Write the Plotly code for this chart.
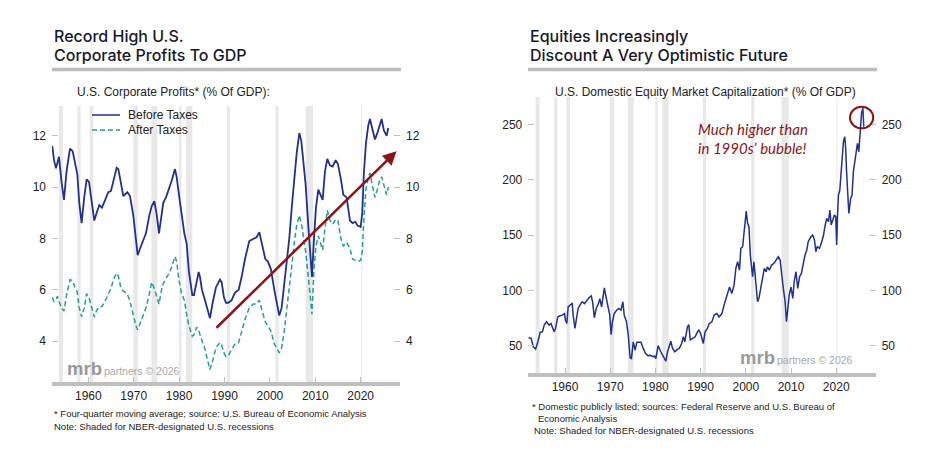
import plotly.graph_objects as go

# ---- left chart: corporate profits (% of GDP), 4q moving average ----
profit_years = [
    1952.07, 1952.44, 1952.88, 1953.20, 1953.54, 1954.10, 1954.64, 1955.20, 1955.96, 1956.55,
    1957.06, 1957.58, 1958.00, 1958.53, 1959.10, 1959.63, 1960.15, 1960.73, 1961.32, 1961.84,
    1962.42, 1963.01, 1963.67, 1964.41, 1964.99, 1965.51, 1966.24, 1966.61, 1967.20, 1967.71,
    1968.59, 1969.18, 1969.91, 1970.50, 1970.87, 1971.38, 1972.11, 1972.70, 1973.44, 1973.95,
    1974.54, 1975.05, 1975.57, 1976.08, 1976.52, 1977.11, 1977.84, 1978.36, 1979.09, 1979.46,
    1980.04, 1980.56, 1981.15, 1981.66, 1982.17, 1982.91, 1983.27, 1983.86, 1984.30, 1984.60,
    1985.04, 1985.70, 1986.28, 1986.80, 1987.39, 1988.12, 1989.00, 1989.37, 1989.88, 1990.32,
    1990.84, 1991.57, 1992.31, 1993.11, 1993.77, 1994.51, 1995.46, 1996.34, 1997.08, 1997.67,
    1998.18, 1998.99, 1999.57, 2000.23, 2000.97, 2001.63, 2002.07, 2002.58, 2003.17, 2003.68,
    2004.27, 2004.86, 2005.45, 2005.89, 2006.48, 2006.92, 2007.36, 2007.87, 2008.46, 2008.97,
    2009.27, 2009.71, 2010.15, 2010.66, 2011.17, 2011.62, 2012.13, 2012.64, 2013.23, 2013.82,
    2014.48, 2014.99, 2015.65, 2016.17, 2016.90, 2017.64, 2018.22, 2018.81, 2019.32, 2019.99,
    2020.35, 2020.72, 2021.16, 2021.67, 2022.04, 2022.41, 2022.78, 2023.14, 2023.66, 2024.24,
    2024.61, 2025.12, 2025.71, 2026.08,
]
before_taxes = [
    11.60, 11.05, 10.73, 10.95, 11.18, 10.20, 9.50, 10.60, 11.50, 11.40,
    10.90, 10.50, 9.40, 8.60, 9.60, 10.30, 10.20, 9.40, 8.70, 9.00,
    9.30, 9.20, 9.50, 9.80, 9.85, 10.20, 10.75, 10.70, 10.20, 9.65,
    9.80, 9.65, 8.90, 7.90, 7.35, 7.60, 7.95, 8.20, 8.90, 9.25,
    9.45, 8.95, 8.20, 8.80, 9.40, 9.60, 9.95, 10.25, 10.70, 10.40,
    9.60, 8.90, 8.20, 7.80, 6.70, 5.80, 5.80, 6.30, 6.70, 6.50,
    6.00, 5.60, 5.20, 4.90, 5.50, 6.10, 6.40, 6.30, 5.70, 5.50,
    5.50, 5.60, 5.90, 6.00, 6.50, 7.20, 7.90, 8.00, 8.05, 8.25,
    7.80, 7.20, 7.10, 6.80, 6.00, 5.30, 5.00, 5.30, 6.20, 7.10,
    8.00, 9.30, 10.60, 11.30, 12.10, 11.80, 11.00, 10.10, 8.50, 7.30,
    6.50, 8.00, 9.20, 9.90, 9.70, 9.50, 10.60, 11.10, 10.85, 10.80,
    11.05, 10.90, 10.30, 9.70, 9.60, 8.70, 8.60, 8.65, 8.50, 8.45,
    9.00, 10.60, 11.70, 12.40, 12.65, 12.40, 12.10, 11.85, 12.10, 12.50,
    12.65, 12.20, 12.00, 12.30,
]
after_taxes = [
    5.71, 5.55, 5.62, 5.75, 5.55, 5.30, 5.18, 5.80, 6.40, 6.35,
    6.10, 5.90, 5.30, 4.95, 5.30, 5.85, 5.70, 5.30, 4.95, 5.20,
    5.35, 5.35, 5.55, 5.85, 6.05, 6.40, 6.65, 6.55, 6.05, 5.95,
    5.85, 5.55, 5.00, 4.60, 4.45, 4.70, 5.05, 5.30, 5.85, 6.30,
    6.05, 5.75, 5.45, 5.95, 6.25, 6.45, 6.65, 6.90, 7.30, 7.10,
    6.30, 5.85, 5.60, 5.05, 4.60, 4.20, 4.25, 4.55, 4.45, 4.25,
    4.00, 3.70, 3.25, 2.90, 3.25, 3.75, 3.95, 3.85, 3.55, 3.40,
    3.45, 3.65, 3.90, 3.95, 4.35, 4.85, 5.30, 5.45, 5.45, 5.60,
    5.25, 4.75, 4.60, 4.40, 3.90, 3.65, 3.55, 3.75, 4.40, 5.20,
    6.00, 7.00, 7.95, 8.50, 8.90, 8.60, 8.10, 7.50, 6.50, 5.50,
    5.05, 6.80, 7.70, 8.10, 7.80, 7.55, 8.40, 9.10, 8.70, 8.55,
    8.75, 8.70, 8.00, 7.70, 7.85, 7.60, 7.20, 7.15, 7.10, 7.15,
    7.50, 8.80, 9.90, 10.40, 10.55, 10.20, 9.85, 9.60, 9.90, 10.30,
    10.40, 10.10, 9.70, 10.00,
]

# ---- right chart: domestic equity market cap (% of GDP) ----
mcap_years = [
    1951.9, 1952.5, 1953.0, 1953.5, 1954.0, 1954.5, 1955.0, 1955.4, 1955.9, 1956.5,
    1956.9, 1957.2, 1957.6, 1957.9, 1958.4, 1958.9, 1959.4, 1959.9, 1960.1, 1960.4,
    1960.7, 1961.3, 1961.6, 1961.8, 1962.2, 1962.6, 1962.9, 1963.5, 1963.8, 1964.3,
    1964.8, 1965.3, 1965.8, 1966.1, 1966.5, 1966.9, 1967.4, 1967.7, 1968.1, 1968.5,
    1968.7, 1969.0, 1969.4, 1969.9, 1970.2, 1970.5, 1970.9, 1971.4, 1971.9, 1972.4,
    1972.8, 1973.1, 1973.6, 1974.0, 1974.4, 1974.7, 1975.1, 1975.5, 1975.9, 1976.4,
    1976.8, 1977.3, 1977.8, 1978.4, 1978.8, 1979.3, 1979.8, 1980.1, 1980.6, 1981.2,
    1981.8, 1982.3, 1982.7, 1983.4, 1983.8, 1984.3, 1984.9, 1985.3, 1985.8, 1986.2,
    1986.5, 1987.1, 1987.4, 1987.7, 1988.2, 1988.8, 1989.3, 1989.6, 1990.0, 1990.4,
    1990.6, 1991.0, 1991.5, 1991.9, 1992.5, 1993.0, 1993.6, 1994.1, 1994.7, 1995.2,
    1995.8, 1996.4, 1996.9, 1997.4, 1997.8, 1998.2, 1998.6, 1998.9, 1999.3, 1999.6,
    1999.9, 2000.1, 2000.4, 2000.7, 2001.0, 2001.3, 2001.5, 2001.8, 2002.2, 2002.6,
    2002.9, 2003.3, 2003.7, 2004.1, 2004.5, 2004.8, 2005.2, 2005.7, 2006.2, 2006.7,
    2007.2, 2007.6, 2007.9, 2008.3, 2008.7, 2009.0, 2009.3, 2009.6, 2010.0, 2010.4,
    2010.7, 2011.1, 2011.5, 2011.9, 2012.3, 2012.7, 2013.1, 2013.5, 2013.8, 2014.4,
    2014.8, 2015.2, 2015.5, 2015.8, 2016.3, 2016.8, 2017.2, 2017.5, 2017.9, 2018.3,
    2018.6, 2018.9, 2019.2, 2019.6, 2019.9, 2020.1, 2020.3, 2020.5, 2020.8, 2021.2,
    2021.6, 2021.9, 2022.1, 2022.3, 2022.6, 2022.8, 2023.2, 2023.5, 2023.8, 2024.2,
    2024.7, 2025.0, 2025.3, 2025.6, 2025.9, 2026.1,
]
mcap_values = [
    57.1, 56.5, 49.0, 46.9, 53.5, 62.0, 62.5, 68.6, 71.6, 68.6,
    70.0, 66.0, 62.5, 65.5, 76.0, 77.0, 77.6, 79.0, 73.0, 70.0,
    85.0, 87.3, 88.0, 77.6, 65.5, 76.0, 83.6, 88.0, 89.7, 88.0,
    91.2, 93.3, 95.0, 89.7, 75.2, 83.6, 88.0, 92.5, 85.0, 95.7,
    102.3, 95.7, 88.0, 77.6, 60.0, 71.6, 79.0, 82.0, 83.6, 82.0,
    89.7, 77.6, 71.6, 59.5, 39.0, 38.4, 53.5, 46.0, 53.0, 53.0,
    53.0, 47.5, 43.0, 40.8, 41.4, 40.2, 40.5, 38.4, 50.0, 44.5,
    40.0, 36.0, 44.5, 54.0, 47.5, 44.5, 46.9, 47.5, 52.0, 58.0,
    53.5, 67.0, 69.0, 55.0, 56.5, 58.0, 62.5, 64.0, 61.0, 53.5,
    52.0, 62.5, 65.5, 70.0, 71.6, 77.6, 79.0, 76.0, 79.0, 86.7,
    95.7, 103.0, 97.2, 104.7, 119.8, 125.8, 118.3, 137.9, 139.4, 150.0,
    165.0, 171.6, 160.5, 157.5, 131.9, 122.8, 112.3, 125.8, 107.7, 89.7,
    92.7, 101.7, 112.3, 119.8, 116.8, 121.3, 118.3, 122.8, 124.3, 127.3,
    130.3, 127.3, 113.8, 101.7, 89.7, 71.6, 83.6, 95.7, 103.0, 92.7,
    107.7, 116.8, 101.7, 112.3, 115.3, 125.8, 131.9, 136.4, 143.9, 148.4,
    150.0, 145.4, 134.9, 139.4, 137.9, 143.9, 150.0, 157.5, 165.0, 162.0,
    172.6, 159.0, 163.5, 168.0, 166.6, 140.9, 168.0, 186.1, 190.6, 216.2,
    234.3, 238.8, 228.3, 207.2, 180.1, 169.5, 183.1, 186.1, 207.2, 217.7,
    232.8, 225.2, 243.4, 259.9, 264.5, 247.9,
]

# NBER recessions (start, end)
recessions = [
    (1953.5, 1954.4), (1957.6, 1958.3), (1960.3, 1961.1), (1969.9, 1970.9),
    (1973.9, 1975.2), (1980.0, 1980.5), (1981.5, 1982.9), (1990.5, 1991.2),
    (2001.2, 2001.9), (2007.9, 2009.5), (2020.1, 2020.3),
]
decade_ticks = [1960, 1970, 1980, 1990, 2000, 2010, 2020]
profit_ticks = [4, 6, 8, 10, 12]
mcap_ticks = [50, 100, 150, 200, 250]

W, H = 930, 467
OFF = 8  # page body margin the browser puts round the figure
NAVY = "#22318a"
TEAL = "#2a9d8f"
DARKRED = "#8b1414"
RULE = "#bdbdbd"
TICKC = "#bfbfbf"
TXT = "#222222"
TITLE = "#16182a"
SANS = "Liberation Sans, Arial, sans-serif"
TFONT = "Inter, " + SANS


def px(x):
    return (x - OFF) / W


def py(y):
    return 1 - (y - OFF) / H


fig = go.Figure()
fig.add_trace(go.Scatter(x=profit_years, y=before_taxes, mode="lines", xaxis="x", yaxis="y",
                         line=dict(color=NAVY, width=1.8)))
fig.add_trace(go.Scatter(x=profit_years, y=after_taxes, mode="lines", xaxis="x", yaxis="y",
                         line=dict(color=TEAL, width=1.5, dash="5px,3px")))
fig.add_trace(go.Scatter(x=mcap_years, y=mcap_values, mode="lines", xaxis="x2", yaxis="y3",
                         line=dict(color=NAVY, width=1.5)))
# invisible copies so the right-hand axes get drawn
fig.add_trace(go.Scatter(x=profit_years, y=before_taxes, mode="lines", xaxis="x", yaxis="y2",
                         line=dict(color="rgba(0,0,0,0)", width=0), hoverinfo="skip"))
fig.add_trace(go.Scatter(x=mcap_years, y=mcap_values, mode="lines", xaxis="x2", yaxis="y4",
                         line=dict(color="rgba(0,0,0,0)", width=0), hoverinfo="skip"))

shapes = []
for xr, yr in (("x", "y domain"), ("x2", "y3 domain")):
    for a, b in recessions:
        shapes.append(dict(type="rect", xref=xr, yref=yr, x0=a, x1=b, y0=0, y1=1,
                           fillcolor="#e8e8e8", line=dict(width=0), layer="below"))

# title rules
for x0, x1 in ((52, 401), (528, 877)):
    shapes.append(dict(type="line", xref="paper", yref="paper", x0=px(x0), x1=px(x1),
                       y0=py(69.5), y1=py(69.5), line=dict(color=RULE, width=3.5)))

# legend (left chart)
shapes.append(dict(type="line", xref="paper", yref="paper", x0=px(92), x1=px(120),
                   y0=py(115), y1=py(115), line=dict(color=NAVY, width=1.5)))
shapes.append(dict(type="line", xref="paper", yref="paper", x0=px(92), x1=px(120),
                   y0=py(130), y1=py(130), line=dict(color=TEAL, width=1.5, dash="5px,3px")))

# circle around latest peak
shapes.append(dict(type="circle", xref="x2", yref="y3", x0=2023.05, x1=2028.2,
                   y0=246.4, y1=265.9, line=dict(color=DARKRED, width=2)))

ann = []


def text(x, y, s, size, color=TXT, family=SANS, xanchor="left", **kw):
    ann.append(dict(xref="paper", yref="paper", x=px(x), y=py(y), text=s, showarrow=False,
                    xanchor=xanchor, yanchor="middle", align="left",
                    font=dict(size=size, color=color, family=family, **kw)))


# titles
text(52, 35.5, "Record High U.S.", 16, color=TITLE, family=TFONT, weight=500)
text(52, 55, "Corporate Profits To GDP", 16, color=TITLE, family=TFONT, weight=500)
text(528, 35.5, "Equities Increasingly", 16, color=TITLE, family=TFONT, weight=500)
text(528, 55, "Discount A Very Optimistic Future", 16, color=TITLE, family=TFONT, weight=500)

# subtitles
text(75, 92, "U.S. Corporate Profits* (% Of GDP):", 12)
text(705, 92, "U.S. Domestic Equity Market Capitalization* (% Of GDP)", 12, xanchor="center")

# legend labels
text(126, 115, "Before Taxes", 12)
text(126, 130, "After Taxes", 12)

# italic note
text(696, 129, "<i>Much higher than</i>", 15, color=DARKRED, family="Lato, " + SANS)
text(696, 148, "<i>in 1990s\u2019 bubble!</i>", 15, color=DARKRED, family="Lato, " + SANS)

# watermarks
text(65, 368.5, "<b>mrb</b>", 18.5, color="#999999")
text(102, 370.5, "partners \u00a9 2026", 10.5, color="#a8a8a8")
text(738, 357.5, "<b>mrb</b>", 18.5, color="#999999")
text(775, 359.5, "partners \u00a9 2026", 10.5, color="#a8a8a8")

# footnotes
text(52, 413, "* Four-quarter moving average; source: U.S. Bureau of Economic Analysis", 9.5)
text(52, 426, "Note: Shaded for NBER-designated U.S. recessions", 9.5)
text(530, 406, "* Domestic publicly listed; sources: Federal Reserve and U.S. Bureau of", 9.5)
text(536, 418, "Economic Analysis", 9.5)
text(532, 430, "Note: Shaded for NBER-designated U.S. recessions", 9.5)

# trend arrow
ann.append(dict(xref="x", yref="y", axref="x", ayref="y", x=2027.9, y=11.4, ax=1987.9, ay=4.47,
                text="", showarrow=True, arrowhead=2, arrowsize=1.1, arrowwidth=2.5,
                arrowcolor=DARKRED))

xcommon = dict(tickvals=decade_ticks, showline=True, linecolor=TICKC, linewidth=4,
               ticks="inside", ticklen=5, tickcolor=TICKC, showgrid=False, zeroline=False,
               tickfont=dict(size=12, color=TXT, family=SANS))
ycommon = dict(ticks="inside", ticklen=6, tickcolor=TICKC, showgrid=False, zeroline=False,
               showline=False, ticklabelstandoff=5, tickfont=dict(size=12, color=TXT, family=SANS))

fig.update_layout(
    width=W, height=H, margin=dict(l=0, r=0, t=0, b=0),
    paper_bgcolor="white", plot_bgcolor="white", showlegend=False,
    xaxis=dict(domain=[px(52), px(400)], range=[1952.0, 2028.66], anchor="y", **xcommon),
    yaxis=dict(domain=[py(382), py(106)], range=[2.416, 13.156], tickvals=profit_ticks,
               anchor="x", **ycommon),
    yaxis2=dict(overlaying="y", side="right", range=[2.416, 13.156], tickvals=profit_ticks,
                anchor="x", **ycommon),
    xaxis2=dict(domain=[px(528.3), px(875.7)], range=[1951.88, 2028.74], anchor="y3", **xcommon),
    yaxis3=dict(domain=[py(373), py(97)], range=[25.3, 274.7], tickvals=mcap_ticks,
                anchor="x2", **ycommon),
    yaxis4=dict(overlaying="y3", side="right", range=[25.3, 274.7],
                tickvals=mcap_ticks, anchor="x2", **ycommon),
    shapes=shapes, annotations=ann,
)

fig.write_html("out.html")
